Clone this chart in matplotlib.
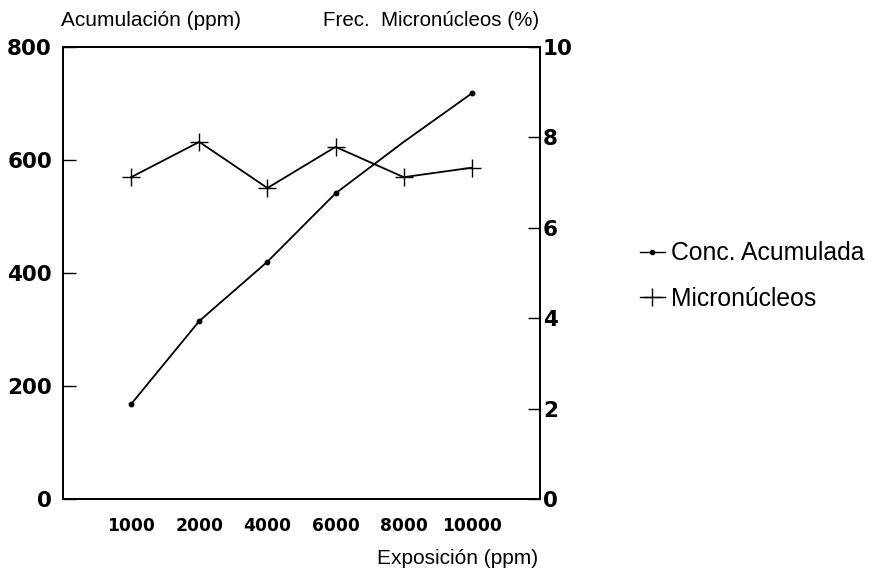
import matplotlib
matplotlib.use("Agg")
import matplotlib.pyplot as plt
from matplotlib.lines import Line2D

plt.rcParams['font.family'] = ['Liberation Sans', 'DejaVu Sans']

exposure = ["1000", "2000", "4000", "6000", "8000", "10000"]
conc_acumulada = [168, 315, 420, 541, 632, 718]      # ppm, left axis
micronucleos = [7.12, 7.9, 6.88, 7.79, 7.12, 7.33]   # %, right axis

left_ticks = [0, 200, 400, 600, 800]
right_ticks = [0, 2, 4, 6, 8, 10]

BOLD = dict(family='DejaVu Sans', fontweight='bold')

fig = plt.figure(figsize=(8.78, 5.75), dpi=100)
ax = fig.add_axes([63 / 878, 1 - 499 / 575, (540 - 63) / 878, (499 - 47) / 575])
ax2 = ax.twinx()

pos = list(range(1, len(exposure) + 1))

# the 8000 ppm point carries no dot on the accumulation curve
ax.plot(pos, conc_acumulada, color='black', lw=1.3, marker='o', ms=3.2,
        markevery=[0, 1, 2, 3, 5])
ax2.plot(pos, micronucleos, color='black', lw=1.3, marker='+', ms=13, mew=1.0)

ax.set_xlim(0, 7)
ax.set_ylim(0, 800)
ax2.set_ylim(0, 10)

ax.set_xticks(pos)
ax.set_xticklabels(exposure, fontsize=12.3, **BOLD)
ax.tick_params(axis='x', length=0, pad=13)

ax.set_yticks(left_ticks)
ax.set_yticklabels([str(t) for t in left_ticks], fontsize=15.5, **BOLD)
ax.tick_params(axis='y', direction='in', length=9, width=1.0, pad=8)

ax2.set_yticks(right_ticks)
ax2.set_yticklabels([str(t) for t in right_ticks], fontsize=15.5, **BOLD)
ax2.tick_params(axis='y', direction='in', length=9, width=1.0, pad=2)

for a in (ax, ax2):
    for s in a.spines.values():
        s.set_linewidth(1.3)

fig.text(61 / 878, 1 - 20 / 575, "Acumulación (ppm)", fontsize=15,
         ha='left', va='center')
fig.text(539 / 878, 1 - 20 / 575, "Frec.  Micronúcleos (%)", fontsize=14.8,
         ha='right', va='center')
fig.text(538 / 878, 1 - 558 / 575, "Exposición (ppm)", fontsize=15,
         ha='right', va='center')

handles = [
    Line2D([], [], color='black', lw=1.0, marker='o', ms=3),
    Line2D([], [], color='black', lw=1.0, marker='+', ms=13, mew=1.0),
]
fig.legend(handles, ["Conc. Acumulada", "Micronúcleos"],
           loc='center left', bbox_to_anchor=(635 / 878, 1 - 276 / 575),
           frameon=False, fontsize=17.8, handlelength=1.0, handletextpad=0.25,
           labelspacing=0.85, borderaxespad=0, borderpad=0.2)

fig.savefig("out.png", dpi=100, facecolor='white')
